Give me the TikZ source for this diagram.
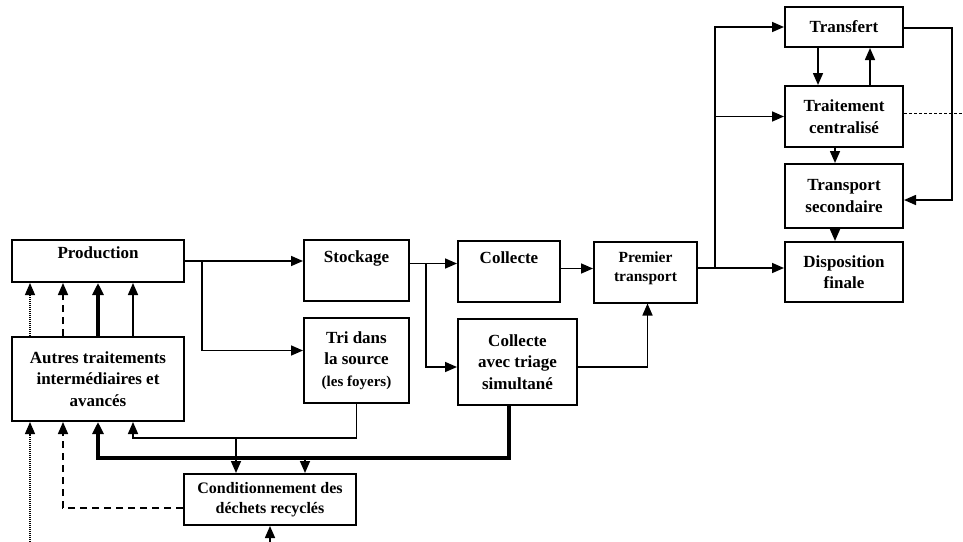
\documentclass[tikz,border=0pt]{standalone}
\usepackage{fontspec}
\setmainfont{Liberation Serif}
\usetikzlibrary{arrows.meta,calc}
\tikzset{
  box/.style={draw, line width=2pt, inner sep=0pt, align=center, font=\bfseries\fontsize{17}{21.5}\selectfont},
  txt/.style={inner sep=0pt, align=center, font=\bfseries\fontsize{17}{21.5}\selectfont},
  arr/.style={-{Triangle[length=12pt,width=10pt]}, line width=1.6pt},
  arrthick/.style={-{Triangle[length=12pt,width=11pt]}, line width=3.5pt},
  dotline/.style={dash pattern=on 1pt off 1pt, line width=1.2pt},
  dashline/.style={dash pattern=on 7pt off 5pt, line width=1.6pt},
  fineline/.style={dash pattern=on 3pt off 2pt, line width=0.9pt}
}
\begin{document}
\begin{tikzpicture}[x=1pt,y=-1pt]
\useasboundingbox (0,0) rectangle (963,541);

% boxes
\node[box, minimum width=172pt, minimum height=42pt] (prod) at (98,261) {};
\node[txt] (prodL) at ($(prod.north)+(0,14)$) {Production};
\node[box, minimum width=172pt, minimum height=84pt] (autres) at (98,379) {Autres traitements\\interm\'ediaires et\\avanc\'es};
\node[box, minimum width=105pt, minimum height=61pt] (stock) at (356.5,270.5) {};
\node[txt] (stockL) at ($(stock.north)+(0,19)$) {Stockage};
\node[box, minimum width=105pt, minimum height=85pt] (tri) at (356.5,360.5) {Tri dans\\la source\\{\fontsize{15}{18}\selectfont (les foyers)}};
\node[box, minimum width=102pt, minimum height=61pt] (coll) at (509,271.5) {};
\node[txt] (collL) at ($(coll.north)+(0,18)$) {Collecte};
\node[box, minimum width=119pt, minimum height=86pt] (collt) at (517.5,362) {Collecte\\avec triage\\simultan\'e};
\node[box, minimum width=103pt, minimum height=61pt, font=\bfseries\fontsize{15.5}{18.5}\selectfont] (prem) at (645.5,272) {Premier\\transport\\[-8pt]};
\node[box, minimum width=118pt, minimum height=40pt] (transf) at (844,27) {Transfert};
\node[box, minimum width=118pt, minimum height=61pt] (trait) at (844,116.5) {Traitement\\centralis\'e};
\node[box, minimum width=118pt, minimum height=64pt] (transp) at (844,196) {Transport\\secondaire};
\node[box, minimum width=118pt, minimum height=60pt] (disp) at (844,272) {Disposition\\finale};
\node[box, minimum width=172pt, minimum height=51pt, font=\bfseries\fontsize{16}{19.5}\selectfont] (cond) at (270,499.5) {Conditionnement des\\d\'echets recycl\'es};

% helper coordinates
\coordinate (br1) at ($(prod.east)+(17,0)$);
\coordinate (br2) at ($(stock.east)+(16,-7)$);
\coordinate (br3) at ($(prem.east)+(17,-4)$);
\coordinate (rr) at ($(transf.east)+(48,0)$);
\coordinate (dotend) at ($(trait.east)+(59,-3.5)$);
\coordinate (tn) at ($(autres.south)+(35,16)$);
\coordinate (tk) at ($(autres.south)+(0,36)$);
\coordinate (c1) at ($(cond.north)+(-34,0)$);
\coordinate (c2) at ($(cond.north)+(35,0)$);
\coordinate (cb) at ($(cond.south)+(0,16)$);
\coordinate (b1) at ($(autres.south)+(-68,120)$);

% main flow
\draw[arr] (prod.east) -- (prod.east -| stock.west);
\draw[arr] (br1) |- ([yshift=10pt]tri.west);
\draw[arr] ([yshift=7pt]stock.east) -- ([yshift=7pt]stock.east -| coll.west);
\draw[arr] (br2) |- ([yshift=-5pt]collt.west);
\draw[arr] ([yshift=3pt]coll.east) -- ([yshift=3pt]coll.east -| prem.west);
\draw[arr] ([yshift=-5pt]collt.east) -| ([xshift=2pt]prem.south);
\draw[arr] ([yshift=4pt]prem.east) -- ([yshift=4pt]prem.east -| disp.west);
\draw[arr] (br3) |- (transf.west);
\draw[arr] (br3 |- trait.west) -- (trait.west);

% right column
\draw[arr] ([xshift=-26pt]transf.south) -- ([xshift=-26pt]trait.north);
\draw[arr] ([xshift=26pt]trait.north) -- ([xshift=26pt]transf.south);
\draw[arr] ([xshift=-9pt]trait.south) -- ([xshift=-9pt]transp.north);
\draw[arr] ([xshift=-9pt]transp.south) -- ([xshift=-9pt]disp.north);
\draw[arr] ([yshift=-1pt]transf.east) -- ([yshift=-1pt]rr) |- ([yshift=-4pt]transp.east);
\draw[fineline] ([yshift=3.5pt]trait.east) -- (dotend);

% Autres -> Production
\draw[arr, dotline] ([xshift=-68pt]autres.north) -- ([xshift=-68pt]prod.south);
\draw[arr, dashline] ([xshift=-35pt]autres.north) -- ([xshift=-35pt]prod.south);
\draw[arrthick] (autres.north) -- (prod.south);
\draw[arr] ([xshift=35pt]autres.north) -- ([xshift=35pt]prod.south);

% returns to Autres
\draw[arr, dotline] (b1) -- ([xshift=-68pt]autres.south);
\draw[arr, dashline] ([yshift=-8.5pt]cond.west) -| ([xshift=-35pt]autres.south);
\draw[arrthick] ([xshift=-8.5pt]collt.south) |- (tk) -- (autres.south);
\draw[arr] (tri.south) |- (tn) -- ([xshift=35pt]autres.south);

% into Conditionnement
\draw[arr] (c1 |- tn) -- (c1);
\draw[arr] (c2 |- tk) -- (c2);
\draw[arr] (cb) -- (cond.south);
\end{tikzpicture}
\end{document}
